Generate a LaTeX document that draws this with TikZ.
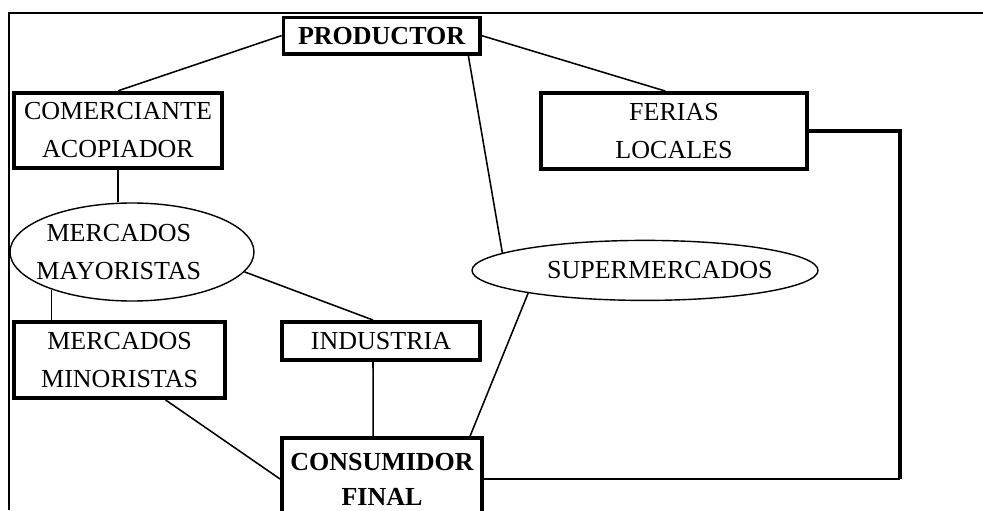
\documentclass[tikz,border=0pt]{standalone}
\usepackage{fontspec}
\setmainfont{Liberation Serif}
\usetikzlibrary{shapes.geometric, calc}

\begin{document}
\begin{tikzpicture}[
  font=\fontsize{18.5}{27}\selectfont,
  box/.style={rectangle, draw=black, line width=2.8pt, align=center, inner sep=0pt},
  oval/.style={ellipse, draw=black, line width=1pt, inner sep=0pt},
  ovaltxt/.style={align=center, inner sep=0pt},
  link/.style={line width=1.1pt},
  heavylink/.style={line width=2.4pt}
]
  \useasboundingbox (0,0) rectangle (24.575,12.75);
  \draw[link] (0.225,0) -- (0.225,12.425) -- (24.575,12.425);
  \node[box, line width=2.3pt, minimum width=4.92cm, minimum height=0.92cm, font=\fontsize{18.5}{27}\selectfont\bfseries] (prod) at (9.54,11.86) {PRODUCTOR};
  \node[box, minimum width=5.2cm, minimum height=1.88cm] (comer) at (2.95,9.49) {COMERCIANTE\\ACOPIADOR};
  \node[box, minimum width=6.65cm, minimum height=1.9cm] (feria) at (16.85,9.475) {FERIAS\\LOCALES};
  \node[oval, minimum width=6.1cm, minimum height=2.45cm,
    label={[ovaltxt, xshift=-0.33cm]center:MERCADOS\\MAYORISTAS}] (mayor) at (3.3,6.45) {};
  \node[oval, minimum width=8.65cm, minimum height=1.5cm,
    label={[ovaltxt, xshift=0.37cm]center:SUPERMERCADOS}] (super) at (16.125,5.99) {};
  \node[box, minimum width=5.28cm, minimum height=1.9cm] (mino) at (2.99,3.75) {MERCADOS\\MINORISTAS};
  \node[box, minimum width=4.95cm, minimum height=0.95cm] (indus) at (9.525,4.225) {INDUSTRIA};
  \node[box, minimum width=5.0cm, minimum height=2.05cm, font=\fontsize{18.5}{25}\selectfont\bfseries] (cons) at (9.55,0.775) {CONSUMIDOR\\FINAL};
  \coordinate (bend) at ($(feria.east)+(2.275,0)$);
  \coordinate (foot) at (bend |- cons.east);
  \draw[link] (prod.west) -- (comer.north);
  \draw[link] (prod.east) -- ($(feria.north)+(-0.22,0)$);
  \draw[link] (prod.-13) -- (super.173);
  \draw[link] (comer.south) -- (comer.south |- mayor.north);
  \draw[link] (mayor.-10) -- ($(indus.north)+(-0.2,0)$);
  \draw[link] (mayor.-155) -- (mayor.-155 |- mino.north);
  \draw[link] (mino.-41) -- (cons.west);
  \draw[link] ($(indus.south)+(-0.2,0)$) -- ($(cons.north)+(-0.22,0)$);
  \draw[link] (super.-169) -- (cons.26.6);
  \draw[heavylink] (feria.east) -- (bend) -- (foot);
  \draw[link] (foot) -- (cons.east);
\end{tikzpicture}
\end{document}
